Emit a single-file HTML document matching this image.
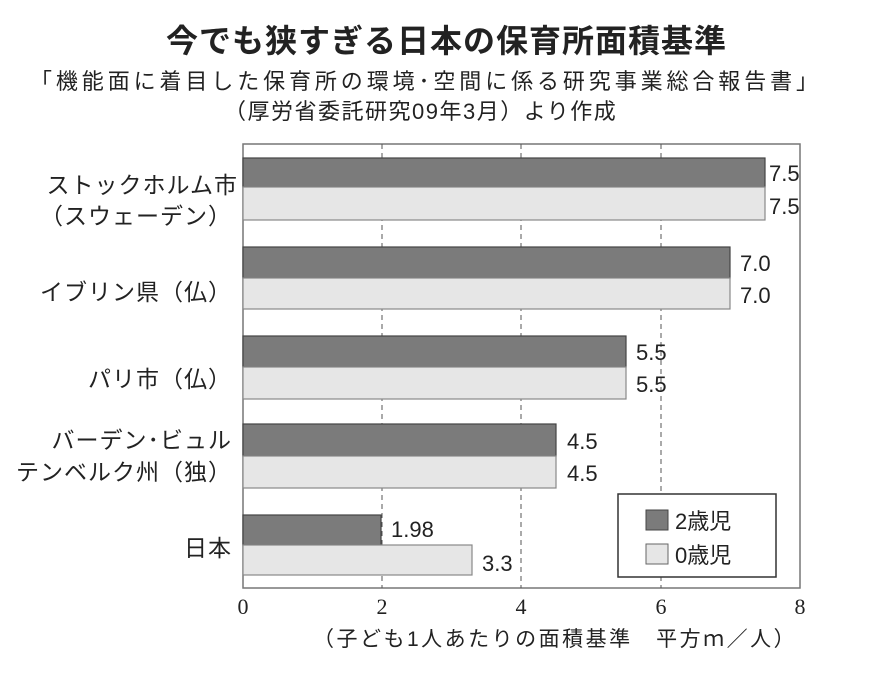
<!DOCTYPE html>
<html><head><meta charset="utf-8"><style>
body{margin:0;background:#fff;width:893px;height:673px;overflow:hidden;font-family:"Liberation Sans","Noto Sans CJK JP",sans-serif;color:#222}
.t{position:absolute;white-space:nowrap}
</style></head><body>
<div class="t" style="left:0;width:893px;top:16px;text-align:center;font-size:32px;font-weight:bold;letter-spacing:1px">今でも狭すぎる日本の保育所面積基準</div>
<div class="t" style="left:30px;top:64px;font-size:22px;letter-spacing:3.9px">「機能面に着目した保育所の環境･空間に係る研究事業総合報告書」</div>
<div class="t" style="left:224px;top:94px;font-size:22px;letter-spacing:1.5px">（厚労省委託研究09年3月）より作成</div>
<svg width="893" height="673" style="position:absolute;left:0;top:0" font-family="Liberation Sans, Noto Sans CJK JP, sans-serif">
<rect x="243" y="144" width="557" height="444" fill="none" stroke="#777" stroke-width="1.5"/>
<g stroke="#555" stroke-dasharray="5,4" stroke-width="1">
<line x1="382" y1="144" x2="382" y2="588"/><line x1="521" y1="144" x2="521" y2="588"/><line x1="661" y1="144" x2="661" y2="588"/></g>
<g stroke="#444" stroke-width="1.2">
<rect x="243" y="158" width="522" height="29" fill="#7b7b7b"/><rect x="243" y="187" width="522" height="33" fill="#e6e6e6" stroke="#888"/>
<rect x="243" y="247" width="487" height="31" fill="#7b7b7b"/><rect x="243" y="278" width="487" height="31" fill="#e6e6e6" stroke="#888"/>
<rect x="243" y="336" width="383" height="31" fill="#7b7b7b"/><rect x="243" y="367" width="383" height="32" fill="#e6e6e6" stroke="#888"/>
<rect x="243" y="424" width="313" height="32" fill="#7b7b7b"/><rect x="243" y="456" width="313" height="32" fill="#e6e6e6" stroke="#888"/>
<rect x="243" y="515" width="138" height="30" fill="#7b7b7b"/><rect x="243" y="545" width="229" height="30" fill="#e6e6e6" stroke="#888"/>
</g>
<g font-size="22" fill="#222">
<text x="769" y="181">7.5</text><text x="769" y="214">7.5</text>
<text x="740" y="271">7.0</text><text x="740" y="303">7.0</text>
<text x="636" y="360">5.5</text><text x="636" y="392">5.5</text>
<text x="567" y="449">4.5</text><text x="567" y="481">4.5</text>
<text x="391" y="537">1.98</text><text x="482" y="571">3.3</text>
</g>
<g font-size="22" fill="#222" font-family="Liberation Serif, serif" text-anchor="middle">
<text x="243" y="614">0</text><text x="382" y="614">2</text><text x="521" y="614">4</text><text x="661" y="614">6</text><text x="800" y="614">8</text></g>
<rect x="618" y="494" width="158" height="83" fill="#fff" stroke="#333" stroke-width="1.5"/>
<rect x="646" y="510" width="22" height="20" fill="#7b7b7b" stroke="#444"/>
<rect x="646" y="544" width="22" height="20" fill="#e6e6e6" stroke="#666"/>
<g font-size="22" fill="#222"><text x="675" y="529">2歳児</text><text x="675" y="563">0歳児</text></g>
<g font-size="23" fill="#222" text-anchor="end" letter-spacing="1">
<text x="238" y="193">ストックホルム市</text><text x="232" y="224">（スウェーデン）</text>
<text x="232" y="300">イブリン県（仏）</text>
<text x="232" y="387">パリ市（仏）</text>
<text x="232" y="448">バーデン･ビュル</text><text x="232" y="480">テンベルク州（独）</text>
<text x="232" y="556">日本</text>
</g>
<text x="313" y="646" font-size="21" fill="#222" letter-spacing="2.5">（子ども1人あたりの面積基準　平方ｍ／人）</text>
</svg>
</body></html>
